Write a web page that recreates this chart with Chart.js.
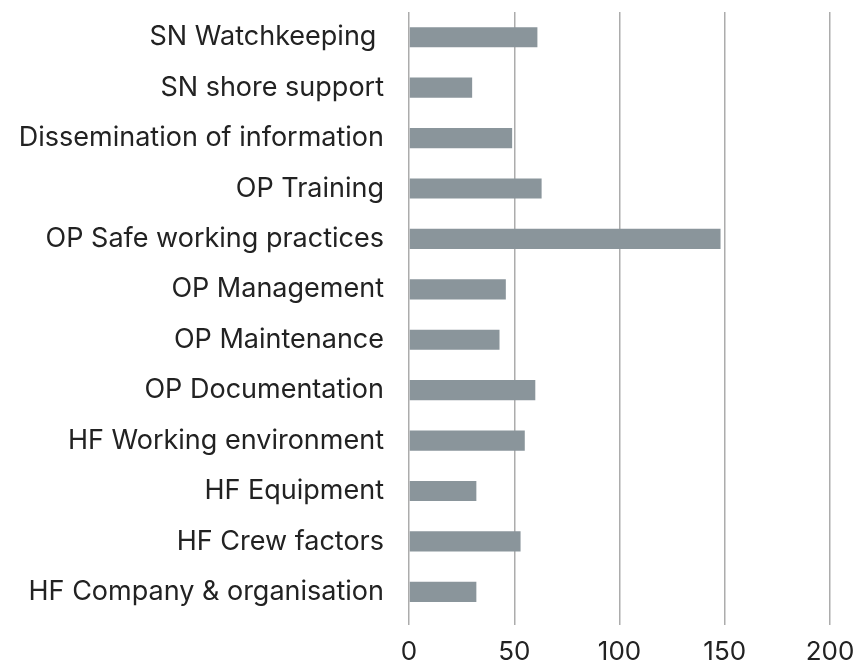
<!DOCTYPE html>
<html>
<head>
<meta charset="utf-8">
<script src="https://cdn.jsdelivr.net/npm/chart.js@4/dist/chart.umd.min.js"></script>
<style>
  html, body { margin: 0; padding: 0; background: #fff; }
  #canvas-container { width: 855px; height: 662px; position: relative; }
</style>
</head>
<body>
<div id="canvas-container"><canvas id="bar-chart"></canvas></div>
<script>
const categories = [
    'SN Watchkeeping ',
    'SN shore support',
    'Dissemination of information',
    'OP Training',
    'OP Safe working practices',
    'OP Management',
    'OP Maintenance',
    'OP Documentation',
    'HF Working environment',
    'HF Equipment',
    'HF Crew factors',
    'HF Company & organisation'
];
const counts = [61, 30, 49, 63, 148, 46, 43, 60, 55, 32, 53, 32];
const x_ticks = [0, 50, 100, 150, 200];

const font_family = 'Inter, "Noto Sans", sans-serif';
const grid_colour = '#acacac';

const chart = new Chart(document.getElementById('bar-chart'), {
    type: 'bar',
    data: {
        labels: categories,
        datasets: [{
            data: counts,
            backgroundColor: '#8a959b',
            borderWidth: 0,
            categoryPercentage: 1.0,
            barPercentage: 0.4
        }]
    },
    options: {
        indexAxis: 'y',
        responsive: true,
        maintainAspectRatio: false,
        animation: false,
        plugins: {
            legend: { display: false },
            tooltip: { enabled: false }
        },
        layout: {
            padding: { top: 12, left: 0, right: 0, bottom: 0 }
        },
        scales: {
            x: {
                min: x_ticks[0],
                max: x_ticks[x_ticks.length - 1],
                afterBuildTicks: function (scale) {
                    scale.ticks = x_ticks.map(v => ({ value: v }));
                },
                afterFit: function (scale) {
                    scale.height = 45;
                    scale.paddingLeft = 0;
                    scale.paddingRight = 25;
                },
                grid: {
                    color: grid_colour,
                    lineWidth: 1.5,
                    drawTicks: true,
                    tickLength: 8,
                    tickColor: grid_colour
                },
                border: { display: false },
                ticks: {
                    color: '#222',
                    padding: 12,
                    font: { family: font_family, size: 26 }
                }
            },
            y: {
                grid: { display: false, drawTicks: false },
                border: { display: false },
                afterFit: function (scale) {
                    scale.width = 409;
                    scale.paddingTop = 0;
                    scale.paddingBottom = 0;
                },
                ticks: {
                    color: '#222',
                    padding: 25,
                    font: { family: font_family, size: 27 }
                }
            }
        }
    }
});
</script>
</body>
</html>
